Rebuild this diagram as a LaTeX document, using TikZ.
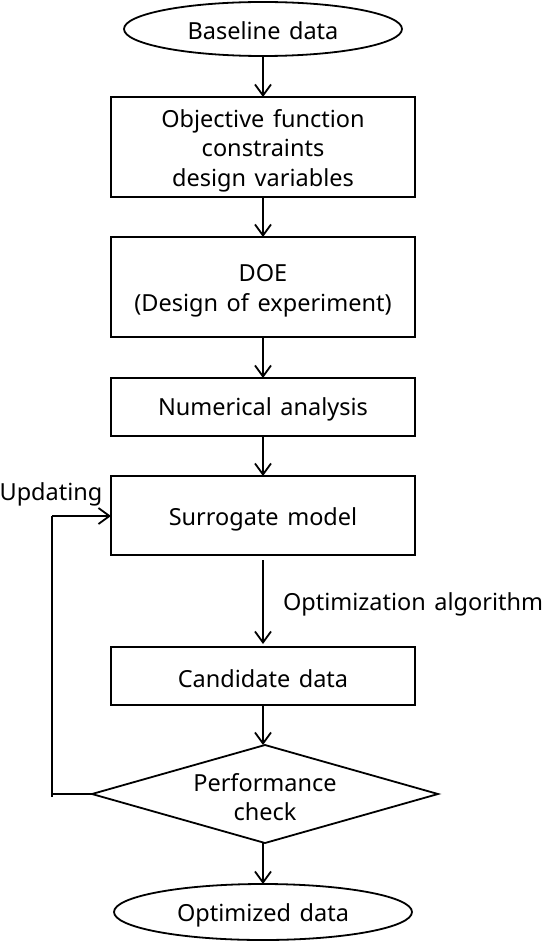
\documentclass[tikz,border=0pt]{standalone}
\usepackage{fontspec}
\setmainfont{Noto Sans}[WordSpace={1.4}]
\usetikzlibrary{shapes.geometric,arrows.meta}
\begin{document}
\begin{tikzpicture}[x=1pt,y=-1pt,
  every node/.style={font=\fontsize{23.5}{29.5}\selectfont, inner sep=0pt, outer sep=0pt, align=center},
  box/.style={draw, line width=1.8pt, minimum width=304pt},
  oval/.style={draw, ellipse, line width=1.8pt},
  dia/.style={draw, diamond, line width=1.8pt},
  arr/.style={line width=1.8pt, -{Straight Barb[length=11pt,width=16pt,line width=1.8pt]}},
  ln/.style={line width=1.8pt}]
\useasboundingbox (0,0) rectangle (546,941);
\node[oval, minimum width=278pt, minimum height=54pt] (base) at (263,29) {};
\node (tbase) at (263,31) {Baseline data};
\node[box, minimum height=100pt] (obj) at (263,147) {};
\node (tobj) at (263,150.5) {Objective function\\constraints\\design variables};
\node[box, minimum height=100pt] (doe) at (263,287) {};
\node (tdoe) at (263,291) {DOE\\(Design of experiment)};
\node[box, minimum height=58pt] (num) at (263,407) {};
\node (tnum) at (263,409.5) {Numerical analysis};
\node[box, minimum height=79pt] (sur) at (263,515.5) {};
\node (tsur) at (263,519) {Surrogate model};
\node[box, minimum height=58pt] (cand) at (263,676) {};
\node (tcand) at (263,679) {Candidate data};
\node[dia, minimum width=346pt, minimum height=98pt, aspect=3.5] (perf) at (265,794) {};
\node (tperf) at (265,797) {Performance\\check};
\node[oval, minimum width=298pt, minimum height=56pt] (opt) at (263,912) {};
\node (topt) at (263,915) {Optimized data};
\node[anchor=west] (alg) at (283,604) {Optimization algorithm};
\node (upd) at (51,494) {Updating};
\coordinate (s1) at (263,560);
\coordinate (s2) at (263,644);
\coordinate (fl) at (52,794);
\coordinate (ft) at (52,516);
\coordinate (fb) at (52,797);
\draw[arr] (base) -- (obj);
\draw[arr] (obj) -- (doe);
\draw[arr] (doe) -- (num);
\draw[arr] (num) -- (sur);
\draw[arr] (s1) -- (s2);
\draw[arr] (cand) -- (cand.south |- perf.north);
\draw[arr] (opt.north |- perf.south) -- (opt);
\draw[ln] (perf.west) -- (fl);
\draw[ln] (fb) -- (ft);
\draw[arr] (ft) -- (sur.west |- ft);
\end{tikzpicture}
\end{document}
